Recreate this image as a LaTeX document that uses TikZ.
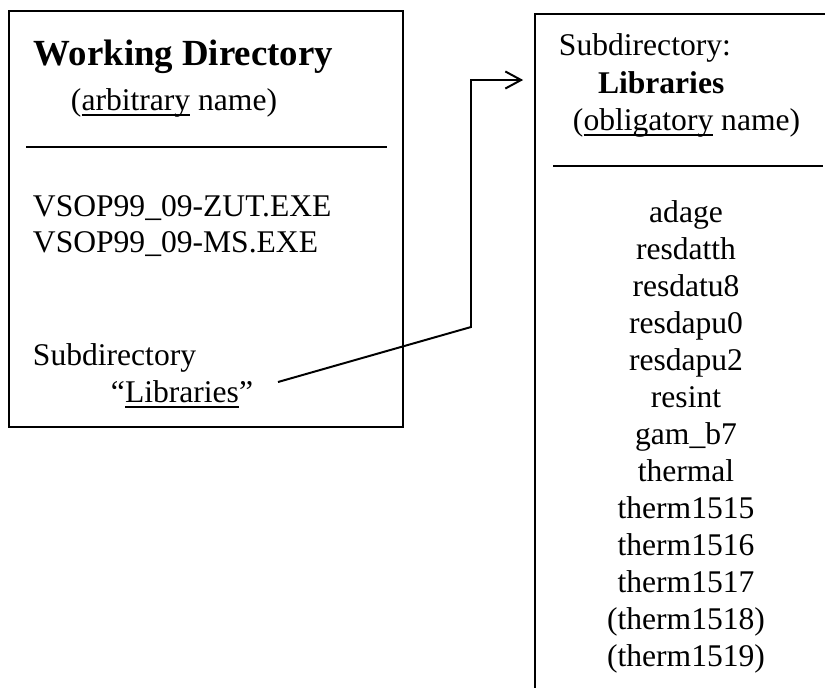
\documentclass[tikz,border=0pt]{standalone}
\usepackage{fontspec}
\setmainfont{Liberation Serif}
\usetikzlibrary{arrows.meta}
\newlength\ulwd
\newcommand\wordul[1]{\settowidth\ulwd{#1}\rlap{\rule[-2.3pt]{\ulwd}{0.75pt}}#1}

\begin{document}
\begin{tikzpicture}[x=0.38pt,y=-0.38pt,line width=0.75pt]

\def\pxu{0.38pt}
\tikzstyle{txt} = [anchor=base west, inner sep=0pt, font=\fontsize{12}{14}\selectfont];
\tikzstyle{entry} = [txt, anchor=base];
\tikzstyle{dirbox} = [draw, rectangle, anchor=north west, inner sep=0pt, outer sep=0pt];
\clip (0,0) rectangle (825,687);

\node[dirbox, minimum width=394*\pxu, minimum height=416*\pxu] (wd) at (9,11) {};
\node[dirbox, minimum width=320*\pxu, minimum height=700*\pxu] (lib) at (535,14) {};

\draw (26,147) -- (387,147);
\draw (553,166) -- (823,166);

\node[txt, font=\fontsize{14}{17}\selectfont\bfseries] (wdtitle) at (33,65) { Working Directory };
\node[txt] (wdnote) at (70,110) { (\wordul{arbitrary} name) };
\node[txt] (exe1) at (32,216) { VSOP99\_09-ZUT.EXE };
\node[txt] (exe2) at (32,252) { VSOP99\_09-MS.EXE };
\node[txt] (sub) at (32,365) { Subdirectory };
\node[txt] (subname) at (110,402) { ``\wordul{Libraries}'' };

\node[txt] (libhead) at (558,55) { Subdirectory: };
\node[txt, font=\fontsize{12}{14}\selectfont\bfseries] (libtitle) at (597,93) { Libraries };
\node[txt] (libnote) at (572,130) { (\wordul{obligatory} name) };

\foreach \f [count=\k from 0] in {adage,resdatth,resdatu8,resdapu0,resdapu2,resint,gam\_b7,thermal,therm1515,therm1516,therm1517,(therm1518),(therm1519)}
  \node[entry] (f\k) at (686,222+37*\k) { \f };

\coordinate (lnk0) at (278,382);
\coordinate (lnk1) at (471,327);
\coordinate (lnk2) at (471,80);
\draw[-{Straight Barb[length=6pt,width=6.5pt]}, shorten >=4.5pt] (lnk0) -- (lnk1) -- (lnk2) -- (lnk2 -| lib.west);

\end{tikzpicture}
\end{document}
